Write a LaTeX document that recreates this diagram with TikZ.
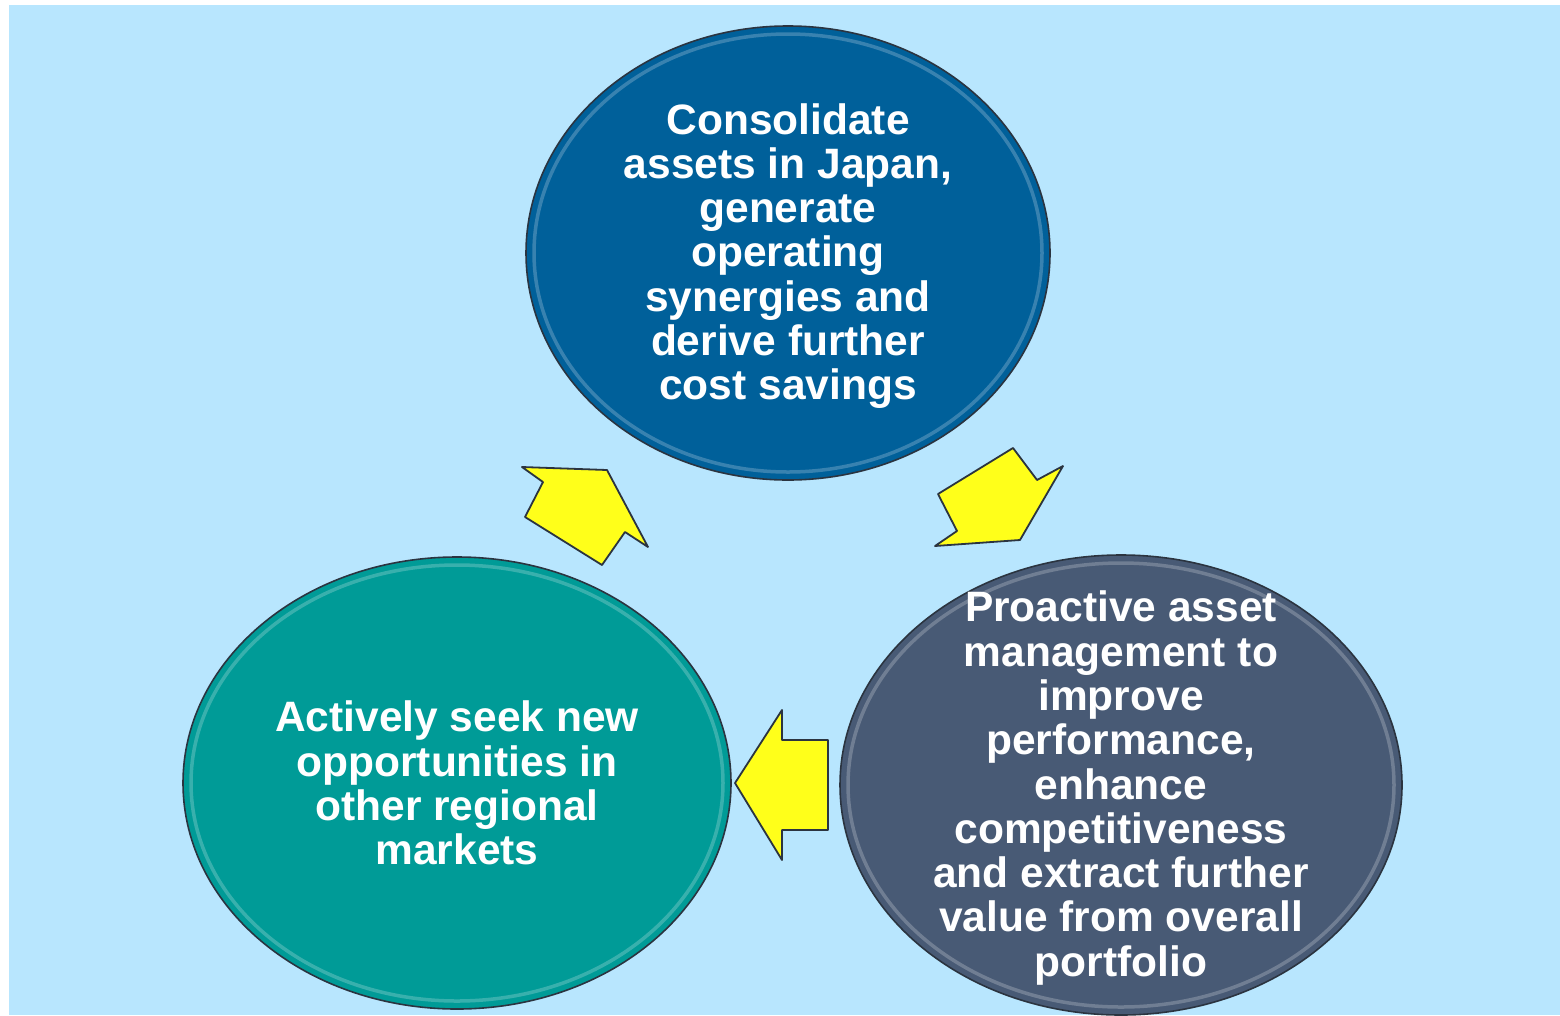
\documentclass[tikz,border=0pt]{standalone}
\usepackage{fontspec}
\setmainfont{Liberation Sans}
\usetikzlibrary{shapes.geometric}
\definecolor{bgblue}{HTML}{B8E6FE}
\definecolor{topblue}{HTML}{00609A}
\definecolor{teal}{HTML}{009B97}
\definecolor{slate}{HTML}{485A75}
\definecolor{arrowyellow}{HTML}{FFFF1A}
\definecolor{outline}{HTML}{2B3440}
\tikzset{
  blob/.style={ellipse, draw=outline, line width=1.6pt, inner sep=0pt},
  ring/.style={ellipse, draw=white, draw opacity=0.22, line width=3.5pt, inner sep=0pt},
  lbl/.style={text=white, align=center, font=\bfseries\fontsize{42.5}{44.3}\selectfont, inner sep=0pt},
  blockarrow/.style={fill=arrowyellow, draw=outline, line width=1.8pt, line join=round},
}
\begin{document}
\begin{tikzpicture}[x=1pt,y=-1pt]
\useasboundingbox (0,0) rectangle (1560,1015);
\fill[bgblue] (9,5) rectangle (1560,1015);

% ellipses
\node[blob, fill=topblue, minimum width=524pt, minimum height=454pt] (top) at (788,253) {};
\node[ring, minimum width=508pt, minimum height=438pt] (topring) at (788,253) {};
\node[blob, fill=teal, minimum width=548pt, minimum height=452pt] (left) at (457,783) {};
\node[ring, minimum width=532pt, minimum height=436pt] (leftring) at (457,783) {};
\node[blob, fill=slate, minimum width=562pt, minimum height=460pt] (right) at (1121,785) {};
\node[ring, minimum width=546pt, minimum height=444pt] (rightring) at (1121,785) {};

% texts
\node[lbl] (toptext) at (788,256) {Consolidate\\assets in Japan,\\generate\\operating\\synergies and\\derive further\\cost savings};
\node[lbl] (lefttext) at (457,783) {Actively seek new\\opportunities in\\other regional\\markets};
\node[lbl] (righttext) at (1121,788) {Proactive asset\\management to\\improve\\performance,\\enhance\\competitiveness\\and extract further\\value from overall\\portfolio};

% block arrows
\draw[blockarrow] (607,470) -- (648,547) -- (625,532) -- (602,565) -- (525,517) -- (543,482) -- (522,467) -- cycle;
\draw[blockarrow] (1020,540) -- (935,546) -- (957,531) -- (938,494) -- (1013,448) -- (1037,480) -- (1063,466) -- cycle;
\draw[blockarrow] (735,783) -- (782,710) -- (782,740) -- (828,740) -- (828,830) -- (782,830) -- (782,860) -- cycle;
\end{tikzpicture}
\end{document}
